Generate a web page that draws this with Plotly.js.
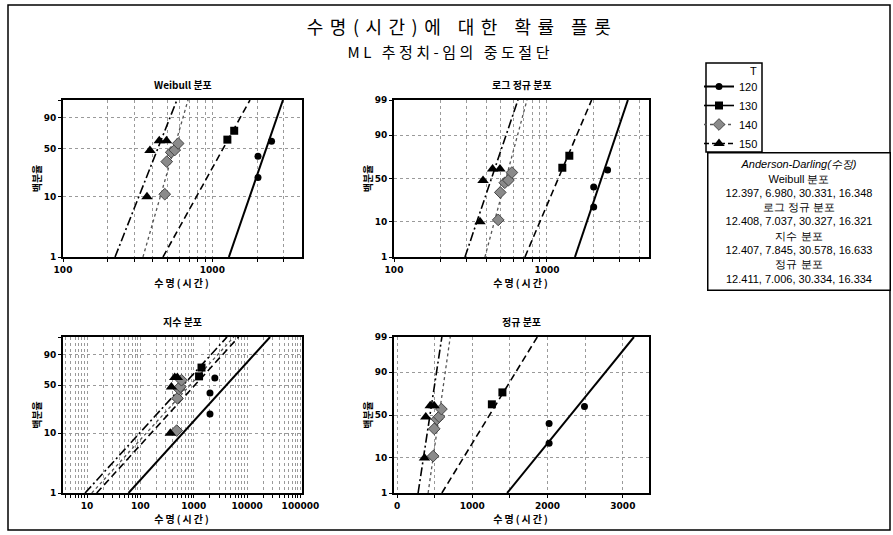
<!DOCTYPE html>
<html><head><meta charset="utf-8">
<script src="https://cdn.plot.ly/plotly-3.0.1.min.js"></script>
<style>
body{margin:0;background:#fff}
#chart{width:893px;height:535px}
.gtitle{letter-spacing:6.5px}
.annotation[data-index="0"] text{letter-spacing:3.5px}
.xtitle,.x2title,.x3title,.x4title{letter-spacing:2px}
</style>
</head><body><div id="chart"></div>
<script>
// ---------------- data ----------------
const groupNames = ['120', '130', '140', '150'];
// plotted points: time (hours) and cumulative percent
const time120 = [2020, 2020, 2490];
const pct120  = [20, 40, 60];
const time130 = [1260, 1400];
const pct130  = [62.5, 75];
const time140 = [480, 495, 530, 560, 590];
const pct140  = [11, 34, 45, 48, 57];
const time150 = [365, 382, 441, 493];
const pct150  = [10, 47.5, 61, 61];
// fitted lines: time at 1% and at 99%
const weibullFit120 = [1290, 2970];
const weibullFit130 = [467, 1786];
const weibullFit140 = [343, 687];
const weibullFit150 = [223, 579];
const lognormFit120 = [1524, 3381];
const lognormFit130 = [718, 1959];
const lognormFit140 = [393, 740];
const lognormFit150 = [291, 646];
const expoFit120 = [60, 27000];
const expoFit130 = [15.2, 6960];
const expoFit140 = [12.3, 5640];
const expoFit150 = [9.2, 4220];
const normalFit120 = [1463, 3147];
const normalFit130 = [596, 1863];
const normalFit140 = [413, 707];
const normalFit150 = [280, 596];
const fitPct = [1, 99];
// text
const panelTitles = ['Weibull 분포', '로그 정규 분포', '지수 분포', '정규 분포'];
const adLines = ['<i>Anderson-Darling(수정)</i>', 'Weibull 분포', '12.397, 6.980, 30.331, 16.348',
  '로그 정규 분포', '12.408, 7.037, 30.327, 16.321', '지수 분포', '12.407, 7.845, 30.578, 16.633',
  '정규 분포', '12.411, 7.006, 30.334, 16.334'];
const probTicks4 = [1, 10, 50, 90];
const probTicks5 = [1, 10, 50, 90, 99];

// ---------------- scales ----------------
function qnorm(p){
 const a=[-3.969683028665376e+01,2.209460984245205e+02,-2.759285104469687e+02,1.383577518672690e+02,-3.066479806614716e+01,2.506628277459239e+00];
 const b=[-5.447609879822406e+01,1.615858368580409e+02,-1.556989798598866e+02,6.680131188771972e+01,-1.328068155288572e+01];
 const c=[-7.784894002430293e-03,-3.223964580411365e-01,-2.400758277161838e+00,-2.549732539343734e+00,4.374664141464968e+00,2.938163982698783e+00];
 const d=[7.784695709041462e-03,3.224671290700398e-01,2.445134137142996e+00,3.754408661907416e+00];
 const pl=0.02425, ph=1-pl; let q,r;
 if(p<pl){q=Math.sqrt(-2*Math.log(p));return (((((c[0]*q+c[1])*q+c[2])*q+c[3])*q+c[4])*q+c[5])/((((d[0]*q+d[1])*q+d[2])*q+d[3])*q+1);}
 if(p<=ph){q=p-0.5;r=q*q;return (((((a[0]*r+a[1])*r+a[2])*r+a[3])*r+a[4])*r+a[5])*q/(((((b[0]*r+b[1])*r+b[2])*r+b[3])*r+b[4])*r+1);}
 q=Math.sqrt(-2*Math.log(1-p));return -(((((c[0]*q+c[1])*q+c[2])*q+c[3])*q+c[4])*q+c[5])/((((d[0]*q+d[1])*q+d[2])*q+d[3])*q+1);
}
const weib = pc => Math.log(-Math.log(1 - pc/100));
const norm = pc => qnorm(pc/100);

const groups = [
 {name:groupNames[0], t:time120, p:pct120, fits:[weibullFit120, lognormFit120, expoFit120, normalFit120],
  marker:{symbol:'circle', size:7, color:'#000'}, line:{color:'#000', width:2, dash:'solid'}, legDash:'solid'},
 {name:groupNames[1], t:time130, p:pct130, fits:[weibullFit130, lognormFit130, expoFit130, normalFit130],
  marker:{symbol:'square', size:8, color:'#000'}, line:{color:'#000', width:1.6, dash:'7px,4px'}, legDash:'solid'},
 {name:groupNames[2], t:time140, p:pct140, fits:[weibullFit140, lognormFit140, expoFit140, normalFit140],
  marker:{symbol:'diamond', size:9, color:'#8a8a8a', line:{color:'#444', width:1}}, line:{color:'#555', width:1.3, dash:'3px,3px'}, legDash:'3px,3px'},
 {name:groupNames[3], t:time150, p:pct150, fits:[weibullFit150, lognormFit150, expoFit150, normalFit150],
  marker:{symbol:'triangle-up', size:10, color:'#000'}, line:{color:'#000', width:1.6, dash:'9px,3px,2px,3px'}, legDash:'5px,3px'}
];
const panels = [
 {xa:'x', ya:'y', tf:weib},
 {xa:'x2', ya:'y2', tf:norm},
 {xa:'x3', ya:'y3', tf:weib},
 {xa:'x4', ya:'y4', tf:norm}
];

const traces = [];
panels.forEach((pn, k) => {
 groups.forEach(g => {
  traces.push({type:'scatter', mode:'lines', xaxis:pn.xa, yaxis:pn.ya, x:g.fits[k], y:fitPct.map(pn.tf),
   line:g.line, showlegend:false, hoverinfo:'skip'});
 });
 groups.forEach(g => {
  traces.push({type:'scatter', mode:'markers', xaxis:pn.xa, yaxis:pn.ya, x:g.t, y:g.p.map(pn.tf),
   marker:g.marker, showlegend:false, cliponaxis:false});
 });
});
// legend entries
groups.forEach(g => {
 traces.push({type:'scatter', mode:'lines+markers', x:[null], y:[null], xaxis:'x', yaxis:'y',
  name:g.name, marker:g.marker, line:Object.assign({}, g.line, {dash:g.legDash})});
});

// ---------------- axes ----------------
const W = 893, H = 535;
const fx = px => px / W, fy = py => 1 - py / H;
const tickFont = {family:'DejaVu Sans', size:9, color:'#000', weight:'bold'};
const titleFont = {family:'Noto Sans CJK KR', size:10, color:'#000', weight:'bold'};
function decadeTicks(lo, hi){
 const v = [];
 for(let e = lo; e <= hi; e++){ for(let m = 1; m <= 9; m++){ v.push(m * Math.pow(10, e)); } }
 return v;
}
function xAxis(dom, type, range, tv, tt){
 return {domain:dom, type:type, range:range, tickvals:tv, ticktext:tt, tickfont:tickFont,
  showgrid:true, gridcolor:'#9a9a9a', griddash:'dot', gridwidth:1, zeroline:false,
  showline:true, mirror:true, linecolor:'#000', linewidth:2, ticks:'outside', ticklen:3, tickcolor:'#000',
  title:{text:'수명(시간)', font:titleFont, standoff:0}, automargin:false, fixedrange:true};
}
function yAxis(dom, tf, ticks, labelTicks){
 return {domain:dom, range:[tf(1), tf(99)], tickvals:ticks.map(tf), ticktext:ticks.map(v => labelTicks.includes(v) ? String(v) : ''),
  tickfont:tickFont, showgrid:true, gridcolor:'#9a9a9a', griddash:'dot', gridwidth:1, zeroline:false,
  showline:true, mirror:true, linecolor:'#000', linewidth:2, ticks:'outside', ticklen:3, tickcolor:'#000',
  title:{text:'백분율', font:titleFont, standoff:0}, automargin:false, fixedrange:true};
}
const dt1 = decadeTicks(2, 3).filter(v => v <= 3000), dtt1 = dt1.map(v => (v===100||v===1000) ? String(v) : '');
const dt2 = decadeTicks(2, 3).filter(v => v <= 4000), dtt2 = dt2.map(v => (v===100||v===1000) ? String(v) : '');
const dt3 = decadeTicks(0, 5).filter(v => v >= 4 && v <= 100000), dtt3 = dt3.map(v => [10,100,1000,10000,100000].includes(v) ? String(v) : '');
const nt = [0, 500, 1000, 1500, 2000, 2500, 3000], ntt = nt.map(v => v % 1000 === 0 ? String(v) : '');

const xTop = [fx(63), fx(302)], xTopR = [fx(394), fx(649)];
const yTop = [fy(257), fy(100)], yBot = [fy(493), fy(337)];

const layout = {
 width:W, height:H, margin:{l:0, r:0, t:0, b:0}, paper_bgcolor:'#fff', plot_bgcolor:'#fff',
 font:{family:'Noto Sans CJK KR', color:'#000'},
 title:{text:'수명(시간)에 대한 확률 플롯', x:fx(462), xanchor:'center', y:fy(28), yanchor:'middle',
  font:{family:'Noto Sans CJK KR', size:18, color:'#000'}},
 xaxis: xAxis(xTop, 'log', [2, 3.6], dt1, dtt1),
 yaxis: yAxis(yTop, weib, [1,10,50,90,99], probTicks4),
 xaxis2: Object.assign(xAxis(xTopR, 'log', [2, 3.667], dt2, dtt2), {anchor:'y2'}),
 yaxis2: Object.assign(yAxis(yTop, norm, [1,10,50,90,99], probTicks5), {anchor:'x2'}),
 xaxis3: Object.assign(xAxis(xTop, 'log', [0.55, 5.03], dt3, dtt3), {anchor:'y3'}),
 yaxis3: Object.assign(yAxis(yBot, weib, [1,10,50,90,99], probTicks4), {anchor:'x3'}),
 xaxis4: Object.assign(xAxis(xTopR, 'linear', [-40, 3347], nt, ntt), {anchor:'y4'}),
 yaxis4: Object.assign(yAxis(yBot, norm, [1,10,50,90,99], probTicks5), {anchor:'x4'}),
 showlegend:true,
 legend:{x:fx(699), y:fy(72), xanchor:'left', yanchor:'top', borderwidth:0,
  bgcolor:'rgba(0,0,0,0)', font:{family:'Liberation Sans', size:11, color:'#000'}, itemwidth:30, tracegroupgap:0},
 annotations:[
  {text:'ML 추정치-임의 중도절단', xref:'paper', yref:'paper', x:fx(450), y:fy(51), xanchor:'center', yanchor:'middle', showarrow:false,
   font:{family:'Noto Sans CJK KR', size:15, color:'#000'}},
  {text:adLines.join('<br>'), xref:'paper', yref:'paper', x:fx(707), y:fy(152), xanchor:'left', yanchor:'top', showarrow:false,
   width:177, height:132, align:'center', valign:'middle', bordercolor:'#000', borderwidth:1.5, borderpad:2, bgcolor:'#fff',
   font:{family:'Liberation Sans', size:11, color:'#000'}},
  {text:'T', xref:'paper', yref:'paper', x:fx(753), y:fy(71), xanchor:'center', yanchor:'middle', showarrow:false,
   font:{family:'Liberation Sans', size:11, color:'#000'}}
 ],
 shapes:[
  {type:'rect', xref:'paper', yref:'paper', x0:fx(8), x1:fx(890), y0:fy(530), y1:fy(5), line:{color:'#000', width:1.5}},
  {type:'rect', xref:'paper', yref:'paper', x0:fx(706), x1:fx(762), y0:fy(152), y1:fy(63), line:{color:'#000', width:1.5}, layer:'below'}
 ]
};
const axIds = [['x','y'],['x2','y2'],['x3','y3'],['x4','y4']];
panelTitles.forEach((t, i) => {
 layout.annotations.push({text:t, xref:axIds[i][0] + ' domain', yref:axIds[i][1] + ' domain', x:0.5, y:1, yshift:16,
  xanchor:'center', yanchor:'middle', showarrow:false, font:{family:'Noto Sans CJK KR', size:10, color:'#000', weight:'bold'}});
});
Plotly.newPlot('chart', traces, layout, {staticPlot:true});
</script></body></html>
